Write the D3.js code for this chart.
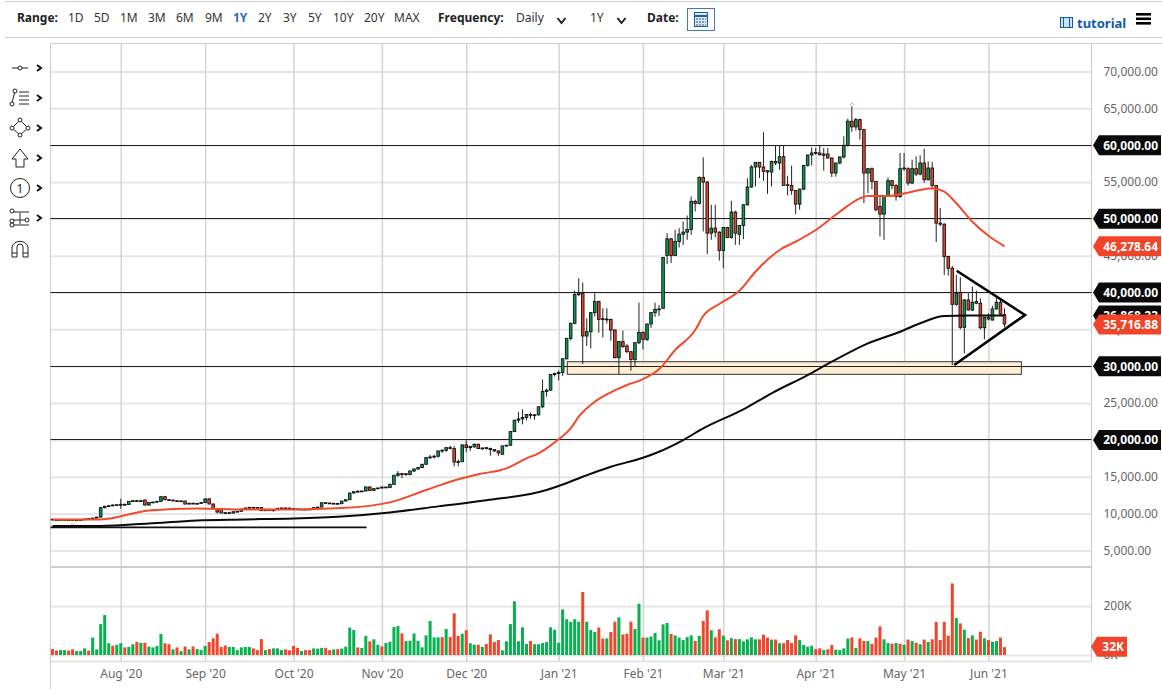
<!DOCTYPE html>
<html>
<head>
<meta charset="utf-8">
<title>BTC/USD</title>
<script src="https://d3js.org/d3.v7.min.js"></script>
<style>
	html, body { margin: 0; padding: 0; background: #fff; overflow: hidden; }
	svg { display: block; }
	text { font-family: "Noto Sans", sans-serif; }
	.axis path { display: none; }
	.axis text { font-size: 12px; fill: #666; }
	.tag { font-size: 12px; font-weight: 700; fill: #fff; }
	.tool { font-size: 12px; fill: #333; }
	.toolb { font-size: 12px; font-weight: 700; fill: #222; }
</style>
</head>
<body>
<script>
// one row per 10 bars, weekdays only
var opens = [
	9230,9180,9160,9190,9150,9170,9100,9140,9170,9260,
	9320,9390,9520,10800,10980,11070,11160,11200,11250,11230,
	11660,11750,11720,11840,11160,11520,11560,11660,12290,11880,
	11830,11740,11720,11700,11290,11400,11350,11380,11490,12000,
	11300,10680,10550,10080,10120,10070,10250,10300,10610,10750,
	10840,10830,10830,10390,10570,10400,10520,10710,10760,10740,
	10680,10630,10530,10590,10610,10580,10800,10880,11470,11430,
	11390,11370,11340,11700,11880,12790,12970,13020,13060,13610,
	13150,13380,13470,13600,13520,13970,15190,15420,15400,15280,
	15780,16050,16240,16690,17600,17680,17780,18500,18590,18950,
	18820,17000,17050,19320,18950,19050,19410,18820,18950,18830,
	18680,18500,18050,19180,19270,21130,22670,22850,23040,23440,
	23350,23400,24490,26570,26750,28880,29020,29150,31010,33780,
	35820,39720,39900,34100,34690,37270,38770,36450,36360,36360,
	34910,31150,33330,32740,31970,30920,33190,34600,33640,35730,
	37270,37720,37860,45020,47290,45020,46930,47920,48200,48560,
	52370,52100,55630,55000,48060,48740,48200,45700,48830,47470,
	50920,47900,49100,51910,54320,57040,57670,57030,56540,56360,
	57800,57580,58440,54630,54540,53860,52000,54040,57260,58670,
	58940,58940,58800,58800,58260,56220,57580,58400,59980,63250,
	62480,63470,62110,56220,56810,55090,51690,50640,53180,55180,
	54540,53050,56810,56810,54860,56810,56080,57580,55310,56900,
	54540,49420,49280,44890,43300,38400,39990,35270,38990,37630,
	38770,38540,35230,36640,36270,37770,38680,37000
];
var highs = [
	9280,9230,9220,9230,9200,9190,9170,9200,9280,9350,
	9420,9560,10850,11050,11130,11220,11260,12020,11340,11700,
	11800,11850,11860,11900,11560,11620,11700,12350,12400,11900,
	11850,11780,11750,11720,11450,11460,11430,11520,12030,12070,
	11340,10720,10600,10180,10200,10280,10340,10640,10790,10880,
	10900,10860,10880,10600,10580,10550,10740,10800,10800,10780,
	10720,10670,10620,10640,10660,10820,10900,11500,11500,11460,
	11430,11400,11720,11900,12820,13020,13180,13120,13650,13660,
	13420,13520,13640,13650,14050,15250,15760,15520,15500,15820,
	16100,16340,16720,17640,17950,18000,18530,18700,18980,19200,
	19150,17320,19400,19950,19150,19480,19450,18950,19000,18950,
	18750,18560,19230,19350,21180,22720,23800,24140,23490,23700,
	23500,24530,28200,26950,28930,29100,29400,31100,33800,35900,
	40260,41940,41350,36500,37300,39900,38900,37860,37860,36400,
	35000,33400,34820,33000,32000,33200,38630,34700,35740,37300,
	38630,38310,44800,48060,47400,48510,48740,49650,50460,53040,
	52600,55750,58350,55100,51910,51910,48300,48850,48900,52460,
	51100,49100,51950,55500,57300,57700,57700,61750,56600,57900,
	59980,59980,59980,55860,57220,53900,54100,57300,58700,59700,
	59620,59980,59620,59620,58300,57600,58450,61200,63600,65300,
	63700,63600,62200,56900,56990,55100,53000,53200,55600,55200,
	54700,58930,58940,57000,58030,58480,58620,59530,57800,57715,
	54600,51460,49400,45000,43600,42390,42075,39100,39900,40800,
	40260,39220,36700,37180,38180,39670,39080,37860
];
var lows = [
	9150,9120,9110,9120,9100,9060,9050,9100,9140,9220,
	9290,9360,9480,10700,10900,11000,11060,10660,11120,11180,
	11600,11660,11650,11100,11100,11440,11500,11600,11850,11700,
	11680,11640,11600,11250,11230,11300,11280,11340,11450,11280,
	10640,10000,10060,10000,10020,10040,10230,10280,10560,10720,
	10760,10760,10370,10360,10370,10250,10490,10680,10710,10660,
	10600,10500,10500,10520,10560,10560,10770,10860,11380,11350,
	11330,11300,11310,11660,11850,12700,12900,12920,13020,13100,
	13100,13340,13400,13450,13480,13900,15000,14800,15160,15240,
	15640,15950,16180,16650,17380,17480,17600,18250,18370,18700,
	16400,16420,17000,18320,18500,18960,18800,18650,18700,17850,
	18350,17800,17980,19100,19200,21050,22300,22100,22660,22870,
	22720,23300,24300,25850,26700,28600,28100,28700,30900,33500,
	35700,39500,30290,32740,32420,36730,34550,33920,35820,33460,
	31100,28930,32500,31800,29380,30020,33000,32280,33400,35200,
	36700,36820,37800,43840,44000,44950,46110,46470,47150,47830,
	51000,51950,48290,45200,47150,47500,44340,43300,47380,47300,
	46470,46470,47250,51800,54200,54400,55540,55180,53400,54400,
	57300,56670,54540,53180,53270,50640,51230,53900,57100,57260,
	58700,58600,56540,58200,55680,55730,57400,58200,59800,61800,
	62000,60750,52140,53500,54000,51000,47600,47150,53000,54000,
	52460,52800,56500,54500,54700,55800,55900,54900,55200,54000,
	46840,49000,42390,42300,30150,38200,35000,31740,37600,37500,
	38400,35000,33640,36200,36200,37700,36900,35270
];
var closes = [
	9180,9160,9190,9150,9170,9100,9140,9170,9260,9320,
	9390,9520,10800,10980,11070,11160,11200,11250,11230,11660,
	11750,11720,11750,11160,11520,11560,11660,12290,11880,11830,
	11740,11720,11700,11290,11400,11350,11380,11490,11990,11300,
	10680,10210,10080,10120,10070,10250,10300,10610,10750,10840,
	10830,10800,10390,10570,10400,10520,10710,10760,10740,10680,
	10630,10530,10590,10540,10580,10800,10880,11470,11430,11390,
	11370,11340,11700,11880,12790,12970,13020,13060,13610,13150,
	13380,13470,13600,13520,13970,15190,15420,15400,15280,15780,
	16050,16240,16690,17600,17680,17780,18500,18590,18950,18860,
	17000,17050,19320,18950,19130,19410,18820,18900,18830,18680,
	18500,18230,19180,19270,21130,22670,22850,23040,23440,23350,
	23400,24490,26570,26750,28880,29020,29150,31010,33780,35820,
	39720,39990,34100,34690,37270,38770,36360,36360,36400,34910,
	31150,33370,32650,31970,30920,33190,34600,33640,35730,37270,
	37720,37770,44750,47290,45020,46930,47920,48200,48560,52370,
	52100,55630,55000,48060,48740,48200,45700,48830,47470,50920,
	48060,49100,51910,54320,57040,57670,57030,56450,56360,57800,
	57580,58440,54540,54540,53860,52000,54040,57260,58670,58940,
	59000,58700,58620,58260,56220,57580,58400,59980,63250,62480,
	63470,62110,56220,56810,55090,51240,50640,53180,55180,54540,
	53050,56810,56900,54860,56810,56080,57580,55310,56900,54540,
	49420,49280,44890,43300,38400,39900,35270,38990,37630,38680,
	38540,35230,36640,36410,37770,38680,37090,35730
];
// volume in thousands
var volumes = [
	24,18,20,20,18,23,16,16,27,18,
	71,23,126,163,48,38,42,48,31,33,
	44,53,49,50,34,31,37,86,48,44,
	23,31,16,35,23,35,24,20,37,53,
	68,87,33,39,33,33,20,31,33,33,
	27,20,65,20,24,27,27,20,23,19,
	37,29,16,20,20,27,26,29,29,20,
	23,24,26,34,112,102,31,29,78,56,
	64,41,35,49,54,114,118,88,57,58,
	88,58,31,80,139,72,72,73,106,73,
	170,78,87,101,48,42,42,33,45,84,
	53,61,19,56,126,219,56,113,45,57,
	44,44,49,53,113,103,50,186,146,135,
	146,136,257,136,102,94,112,67,68,94,
	136,154,84,87,136,106,209,71,71,75,
	90,60,125,131,86,80,71,61,73,80,
	57,78,139,182,101,72,105,79,60,69,
	65,65,56,64,72,64,64,83,71,63,
	63,48,48,61,49,80,61,41,34,38,
	24,27,20,23,41,22,20,27,67,72,
	29,68,57,57,46,71,117,64,49,46,
	49,46,42,63,57,50,44,63,53,64,
	135,61,135,79,292,151,129,103,69,80,
	63,95,68,61,54,57,71,32
];
var volumeDir = "rrggrrgggr" + "gggggrggrg" + "grgrggggrr" + "grgrgrgggr" + "rrrrgggggg" + "rrrgrgggrr" +
	"rrgrrgggrr" + "grggggrggr" + "ggrggggrgg" + "gggggggrgr" + "rrgrggrgrr" + "rrgggggggr" +
	"gggggggggg" + "ggrgggrrgr" + "rgrrrggrgg" + "ggggrggggg" + "rgrrgrrgrg" + "rgggggrrrg" +
	"rgrrrrgggg" + "rrgrrggggr" + "grrgrrrggr" + "grgrgrgrgr" + "rrrrrgrgrg" + "rrgrggrr";

var avgBars = [0,12,24,36,48,60,72,84,93,99,106,113,118,121,123,126,129,131,135,139,143,147,151,155,160,162,166,171,175,181,185,190,196,201,203,208,214,219,222,225,229,233,237];
var avg50 = [9208,9208,10432,10704,10568,10568,10745,11520,13193,14320,15324,16138,17495,18174,18853,20075,21568,23143,25179,26455,27446,28260,29577,32196,34911,36812,38440,40246,42825,45770,46897,48485,50969,52788,53100,53100,53684,54146,53684,52109,49612,47711,46278];
var avg200Bars = [0,12,24,36,48,60,72,84,96,108,123,126,132,139,147,151,157,162,172,179,188,194,203,211,217,222,228,237];
var avg200 = [8300,8324,8664,9072,9208,9344,9616,10160,10976,11792,13193,13736,14998,16356,17577,18392,19980,21568,24147,26319,28803,30608,33106,34680,36038,36812,36868,36868];

var monthBars = [17,38,60,82,103,126,147,167,190,212,233];
var monthLabels = ["Aug '20","Sep '20","Oct '20","Nov '20","Dec '20","Jan '21","Feb '21","Mar '21","Apr '21","May '21","Jun '21"];
var priceTicks = d3.range(5000, 70001, 5000);
var levels = [60000, 50000, 40000, 30000, 20000];
var boxBars = [128.15, 241.2], boxPrices = [30608, 28900];
var triangleBars = [225.1, 242.1, 224.5], trianglePrices = [42960, 36947, 30160];
var lastAvg50 = 46278.64, lastAvg200 = 36868.23, lastClose = 35716.88;
var rangeLabels = ["1D","5D","1M","3M","6M","9M","1Y","2Y","3Y","5Y","10Y","20Y","MAX"];
var rangeX = [68,94,120,148,176,205,233,258,283,308,333,364,394];

var width = 1162, height = 689;
var left = 50.5, right = 1091.5, top0 = 43.5, frameBottom = 661.5, volTop = 567;

var svg = d3.select("body").append("svg").attr("width", width).attr("height", height);

var x = d3.scaleLinear().domain([0, 237]).range([52.5, 1004.5]);
var y = d3.scaleLinear().domain([5000, 70000]).range([550.4, 71.5]);
var yVol = d3.scaleLinear().domain([0, 200]).range([655, 606]);
var fmt = d3.format(",.2f");

var GREEN = "#0a9c4e", RED = "#ea432a", VOLGREEN = "#08b050", VOLRED = "#f4452a";

// horizontal grid
var gy = svg.append("g").attr("class", "axis").attr("transform", "translate(" + right + ",0)")
	.call(d3.axisRight(y).tickValues(priceTicks).tickFormat(fmt).tickSizeInner(-(right - left)).tickSizeOuter(0).tickPadding(12));
gy.selectAll("line").attr("stroke", "#e6e6e6").attr("stroke-width", 2);

var gv = svg.append("g").attr("class", "axis").attr("transform", "translate(" + right + ",0)")
	.call(d3.axisRight(yVol).tickValues([0, 200]).tickFormat(function(d) { return d + "K"; }).tickSizeInner(-(right - left)).tickSizeOuter(0).tickPadding(12));
gv.selectAll("line").attr("stroke", "#e6e6e6").attr("stroke-width", 2);

// month grid and labels
var gx = svg.append("g").attr("class", "axis").attr("transform", "translate(0," + frameBottom + ")")
	.call(d3.axisBottom(x).tickValues(monthBars).tickFormat(function(d, i) { return monthLabels[i]; })
		.tickSizeInner(-(frameBottom - top0)).tickSizeOuter(0).tickPadding(8));
gx.selectAll("line").attr("stroke", "#d4d4d4").attr("stroke-width", 1.5);

// frame
svg.append("line").attr("x1", 5).attr("x2", width).attr("y1", 1.5).attr("y2", 1.5).attr("stroke", "#ccc");
svg.append("line").attr("x1", 5).attr("x2", width).attr("y1", 37.5).attr("y2", 37.5).attr("stroke", "#ccc");
svg.append("line").attr("x1", left).attr("x2", width).attr("y1", top0).attr("y2", top0).attr("stroke", "#ccc");
svg.append("line").attr("x1", left).attr("x2", left).attr("y1", top0).attr("y2", height).attr("stroke", "#ccc");
svg.append("line").attr("x1", right).attr("x2", right).attr("y1", top0).attr("y2", frameBottom).attr("stroke", "#ccc");
svg.append("line").attr("x1", left).attr("x2", right).attr("y1", frameBottom).attr("y2", frameBottom).attr("stroke", "#ddd").attr("stroke-width", 1.5);
svg.append("line").attr("x1", left).attr("x2", right).attr("y1", volTop).attr("y2", volTop).attr("stroke", "#ccc").attr("stroke-width", 2);

// support box
svg.append("rect").attr("x", x(boxBars[0])).attr("width", x(boxBars[1]) - x(boxBars[0]))
	.attr("y", y(boxPrices[0])).attr("height", y(boxPrices[1]) - y(boxPrices[0]))
	.attr("fill", "#fdeed3").attr("stroke", "#333").attr("stroke-width", 1);

// levels
svg.selectAll(".level").data(levels).enter().append("line").attr("class", "level")
	.attr("x1", left).attr("x2", right)
	.attr("y1", function(d) { return Math.floor(y(d)) + 0.5; }).attr("y2", function(d) { return Math.floor(y(d)) + 0.5; })
	.attr("stroke", "#222").attr("stroke-width", 1.1);

// candles
var candle = svg.append("g").selectAll("g").data(d3.range(closes.length)).enter().append("g");
candle.append("line")
	.attr("x1", function(i) { return x(i); }).attr("x2", function(i) { return x(i); })
	.attr("y1", function(i) { return y(highs[i]); }).attr("y2", function(i) { return y(lows[i]); })
	.attr("stroke", "#222").attr("stroke-width", 1);
candle.append("rect")
	.attr("x", function(i) { return x(i) - 1.3; }).attr("width", 2.6)
	.attr("y", function(i) { return y(Math.max(opens[i], closes[i])); })
	.attr("height", function(i) { return Math.max(0.8, Math.abs(y(opens[i]) - y(closes[i]))); })
	.attr("fill", function(i) { return closes[i] >= opens[i] ? GREEN : RED; })
	.attr("stroke", "#111").attr("stroke-width", 0.9);

// high and low markers
svg.append("path").attr("d", d3.line()([[x(199) - 2, y(65450)], [x(199), y(65750)], [x(199) + 2, y(65450)]]))
	.attr("fill", "none").attr("stroke", "#f2a090").attr("stroke-width", 1);
svg.append("path").attr("d", d3.line()([[x(5) - 2, y(8650)], [x(5), y(8450)], [x(5) + 2, y(8650)]]))
	.attr("fill", "none").attr("stroke", "#f2a090").attr("stroke-width", 1);

// moving averages
var line50 = d3.line().x(function(d, k) { return x(avgBars[k]); }).y(function(d) { return y(d); }).curve(d3.curveMonotoneX);
var line200 = d3.line().x(function(d, k) { return x(avg200Bars[k]); }).y(function(d) { return y(d); }).curve(d3.curveMonotoneX);
svg.append("path").attr("d", line50(avg50)).attr("fill", "none").attr("stroke", "#f4492c").attr("stroke-width", 2);
svg.append("path").attr("d", line200(avg200)).attr("fill", "none").attr("stroke", "#0a0a0a").attr("stroke-width", 2);

// drawn trend line and triangle
svg.append("line").attr("x1", left).attr("x2", x(78.2)).attr("y1", y(8120)).attr("y2", y(8120)).attr("stroke", "#111").attr("stroke-width", 1.8);
svg.append("path").attr("d", d3.line()(triangleBars.map(function(b, k) { return [x(b), y(trianglePrices[k])]; })))
	.attr("fill", "none").attr("stroke", "#000").attr("stroke-width", 2.6);

// volume bars
svg.append("g").selectAll("rect").data(volumes).enter().append("rect")
	.attr("x", function(d, i) { return x(i) - 1.5; }).attr("width", 3)
	.attr("y", function(d) { return yVol(d); })
	.attr("height", function(d) { return yVol(0) - yVol(d); })
	.attr("fill", function(d, i) { return volumeDir[i] == "g" ? VOLGREEN : VOLRED; });

// price tags
function tag(cy, label, fill, x0, x1) {
	var h = 10;
	svg.append("path")
		.attr("d", "M" + x0 + "," + cy + "L" + (x0 + 6) + "," + (cy - h) + "L" + x1 + "," + (cy - h) + "L" + x1 + "," + (cy + h) + "L" + (x0 + 6) + "," + (cy + h) + "Z")
		.attr("fill", fill);
	svg.append("text").attr("class", "tag").attr("x", x1 - 3).attr("y", cy + 4.5).attr("text-anchor", "end").text(label);
}
levels.forEach(function(d) { tag(y(d), fmt(d), "#0a0a0a", 1093, 1161); });
tag(y(lastAvg200), fmt(lastAvg200), "#0a0a0a", 1093, 1161);
tag(y(lastAvg50), fmt(lastAvg50), "#f0452a", 1093, 1161);
tag(y(lastClose) + 0.5, fmt(lastClose), "#f0452a", 1093, 1161);
tag(yVol(32) - 0.5, "32K", "#f0452a", 1091, 1127);

// toolbar
var bar = svg.append("g");
bar.append("text").attr("class", "toolb").attr("x", 17).attr("y", 22).text("Range:");
bar.selectAll(".range").data(rangeLabels).enter().append("text").attr("class", "tool")
	.attr("x", function(d, i) { return rangeX[i]; }).attr("y", 22)
	.style("fill", function(d) { return d == "1Y" ? "#2a6fb8" : "#333"; })
	.style("font-weight", function(d) { return d == "1Y" ? 700 : 400; })
	.text(function(d) { return d; });
bar.append("text").attr("class", "toolb").attr("x", 438).attr("y", 22).text("Frequency:");
bar.append("text").attr("class", "tool").attr("x", 516).attr("y", 22).text("Daily");
bar.append("text").attr("class", "tool").attr("x", 590).attr("y", 22).text("1Y");
bar.append("text").attr("class", "toolb").attr("x", 647).attr("y", 22).text("Date:");
[561.5, 621.5].forEach(function(cx) {
	bar.append("path").attr("d", "M" + (cx - 4) + ",18L" + cx + ",23L" + (cx + 4) + ",18")
		.attr("fill", "none").attr("stroke", "#222").attr("stroke-width", 2);
});
bar.append("rect").attr("x", 687.5).attr("y", 8.5).attr("width", 27).attr("height", 22).attr("fill", "#fff").attr("stroke", "#3a7cbd");
bar.append("rect").attr("x", 694.5).attr("y", 12.5).attr("width", 13).attr("height", 14).attr("fill", "#dbe7f3").attr("stroke", "#1f5f9e");
bar.append("line").attr("x1", 694.5).attr("x2", 707.5).attr("y1", 16).attr("y2", 16).attr("stroke", "#1f5f9e").attr("stroke-width", 2);
[19, 22, 25].forEach(function(yy) {
	bar.append("line").attr("x1", 696).attr("x2", 706).attr("y1", yy).attr("y2", yy).attr("stroke", "#1f5f9e").attr("stroke-dasharray", "2 1");
});
bar.append("text").attr("x", 1077).attr("y", 28).attr("fill", "#0b5ea8").style("font-size", "13px").style("font-weight", 700).text("tutorial");
bar.append("rect").attr("x", 1060.5).attr("y", 17.5).attr("width", 12).attr("height", 10).attr("fill", "#cfe0f0").attr("stroke", "#0b5ea8");
[1063.5, 1069.5].forEach(function(xx) {
	bar.append("line").attr("x1", xx).attr("x2", xx).attr("y1", 17.5).attr("y2", 27.5).attr("stroke", "#0b5ea8");
});
[14, 18.5, 23].forEach(function(yy) {
	bar.append("rect").attr("x", 1136).attr("y", yy - 1).attr("width", 15).attr("height", 2.6).attr("fill", "#000");
});

// drawing tools on the left
var ink = "#222";
function shape(d) {
	return svg.append("path").attr("d", d).attr("fill", "none").attr("stroke", ink).attr("stroke-width", 1);
}
function dot(cx, cy, r) {
	svg.append("circle").attr("cx", cx).attr("cy", cy).attr("r", r).attr("fill", "#fff").attr("stroke", ink);
}
[68, 98, 128, 158, 188, 218].forEach(function(cy) {
	svg.append("path").attr("d", "M37," + (cy - 3) + "L41," + cy + "L37," + (cy + 3)).attr("fill", "none").attr("stroke", "#111").attr("stroke-width", 2);
});
shape("M12,68H28"); dot(20, 68, 2);
shape("M12,103L15,91M19,92H29M19,96H29M19,100H29M19,104H29"); dot(15, 91, 2); dot(12, 104, 2);
shape("M20,120L28,128L20,135L12,128Z"); dot(20, 120, 2); dot(28, 128, 2); dot(20, 135, 2); dot(12, 128, 2);
shape("M20,149L28,159H24V167H16V159H12Z");
svg.append("circle").attr("cx", 20).attr("cy", 188).attr("r", 9.5).attr("fill", "none").attr("stroke", ink);
svg.append("text").attr("x", 20).attr("y", 192.5).attr("text-anchor", "middle").style("font-size", "12px").attr("fill", ink).text("1");
shape("M12,212H29M12,220H29M12,225H29M20,213V224"); dot(12, 211, 2); dot(12, 221, 2); dot(27, 220, 2); dot(12, 225, 2);
shape("M12,257V247A8.5,8.5 0 0 1 28,247V257H23V247A3,3 0 0 0 17,247V257ZM12,253H17M23,253H28");
</script>
</body>
</html>
